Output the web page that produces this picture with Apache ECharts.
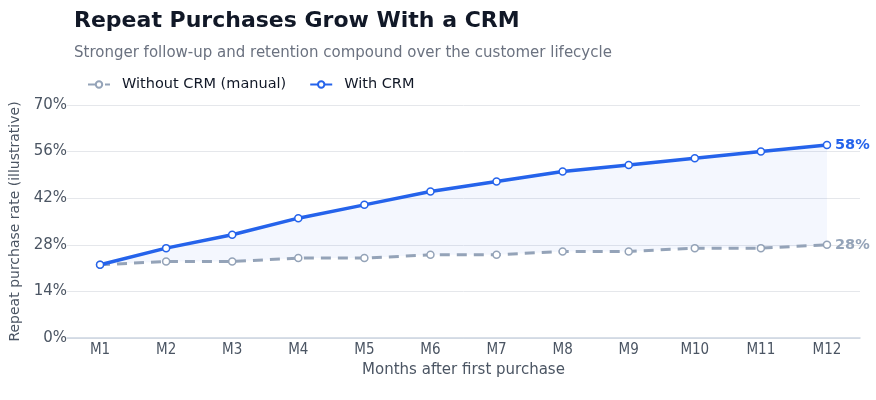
<!DOCTYPE html>
<html lang="en">
<head>
<meta charset="UTF-8">
<title>Repeat Purchases Grow With a CRM</title>
<script src="https://cdn.jsdelivr.net/npm/echarts@6/dist/echarts.min.js"></script>
<style>
  body { margin: 0; padding: 0; background: #fff; }
  #main { width: 876px; height: 400px; }
</style>
</head>
<body>
<div id="main"></div>
<script>
// months after first purchase
var months = ['M1', 'M2', 'M3', 'M4', 'M5', 'M6', 'M7', 'M8', 'M9', 'M10', 'M11', 'M12'];
// repeat purchase rate (%)
var withoutCrm = [22, 23, 23, 24, 24, 25, 25, 26, 26, 27, 27, 28];
var withCrm = [22, 27, 31, 36, 40, 44, 47, 50, 52, 54, 56, 58];

var blue = '#2563eb';
var gray = '#94a3b8';
var font = 'DejaVu Sans';

// shaded band between the two lines
var gap = withCrm.map(function (v, i) { return v - withoutCrm[i]; });

var chart = echarts.init(document.getElementById('main'));
chart.setOption({
  animation: false,
  textStyle: { fontFamily: font },
  title: {
    text: 'Repeat Purchases Grow With a CRM',
    subtext: 'Stronger follow-up and retention compound over the customer lifecycle',
    left: 69,
    top: 5,
    itemGap: 14,
    textStyle: { fontSize: 22, fontWeight: 'bold', color: '#111827', fontFamily: font },
    subtextStyle: { fontSize: 15, color: '#6b7280', fontFamily: font }
  },
  legend: {
    left: 82,
    top: 72,
    itemWidth: 22,
    itemHeight: 8,
    itemGap: 23,
    textStyle: { fontSize: 14.5, color: '#111827', fontFamily: font, padding: [0, 0, 0, 7] },
    data: ['Without CRM (manual)', 'With CRM']
  },
  grid: { left: 67, right: 16, top: 105, bottom: 62, outerBoundsMode: 'none' },
  xAxis: {
    type: 'category',
    data: months,
    boundaryGap: true,
    name: 'Months after first purchase',
    nameLocation: 'middle',
    nameGap: 25,
    nameTextStyle: { fontSize: 15, color: '#4b5563' },
    axisLine: { lineStyle: { color: '#cbd5e1', width: 1.5 } },
    axisTick: { show: false },
    axisLabel: { fontSize: 15, color: '#4b5563', margin: 5, fontFamily: 'DejaVu Sans Condensed' }
  },
  yAxis: {
    type: 'value',
    min: 0,
    max: 70,
    interval: 14,
    name: 'Repeat purchase rate (illustrative)',
    nameLocation: 'middle',
    nameGap: 45,
    nameTextStyle: { fontSize: 14, color: '#4b5563' },
    axisLine: { show: false },
    axisTick: { show: false },
    axisLabel: { formatter: '{value}%', fontSize: 15, color: '#4b5563', margin: 0 },
    splitLine: { lineStyle: { color: '#e5e7eb', width: 1 } }
  },
  series: [
    {
      name: 'base',
      type: 'line',
      stack: 'band',
      data: withoutCrm,
      symbol: 'none',
      lineStyle: { opacity: 0 },
      silent: true,
      z: 1
    },
    {
      name: 'band',
      type: 'line',
      stack: 'band',
      data: gap,
      symbol: 'none',
      lineStyle: { opacity: 0 },
      areaStyle: { color: 'rgba(37,99,235,0.07)' },
      silent: true,
      z: 1
    },
    {
      name: 'Without CRM (manual)',
      type: 'line',
      data: withoutCrm,
      symbol: 'circle',
      symbolSize: 7,
      lineStyle: { color: gray, width: 3, type: [10, 7] },
      itemStyle: { color: '#fff', borderColor: gray, borderWidth: 1.5 },
      endLabel: {
        show: true,
        formatter: '{c}%',
        color: gray,
        fontWeight: 'bold',
        fontSize: 14.5,
        distance: 8
      },
      z: 3
    },
    {
      name: 'With CRM',
      type: 'line',
      data: withCrm,
      symbol: 'circle',
      symbolSize: 7,
      lineStyle: { color: blue, width: 3.5 },
      itemStyle: { color: '#fff', borderColor: blue, borderWidth: 1.5 },
      endLabel: {
        show: true,
        formatter: '{c}%',
        color: blue,
        fontWeight: 'bold',
        fontSize: 14.5,
        distance: 8
      },
      z: 4
    }
  ]
});
</script>
</body>
</html>
